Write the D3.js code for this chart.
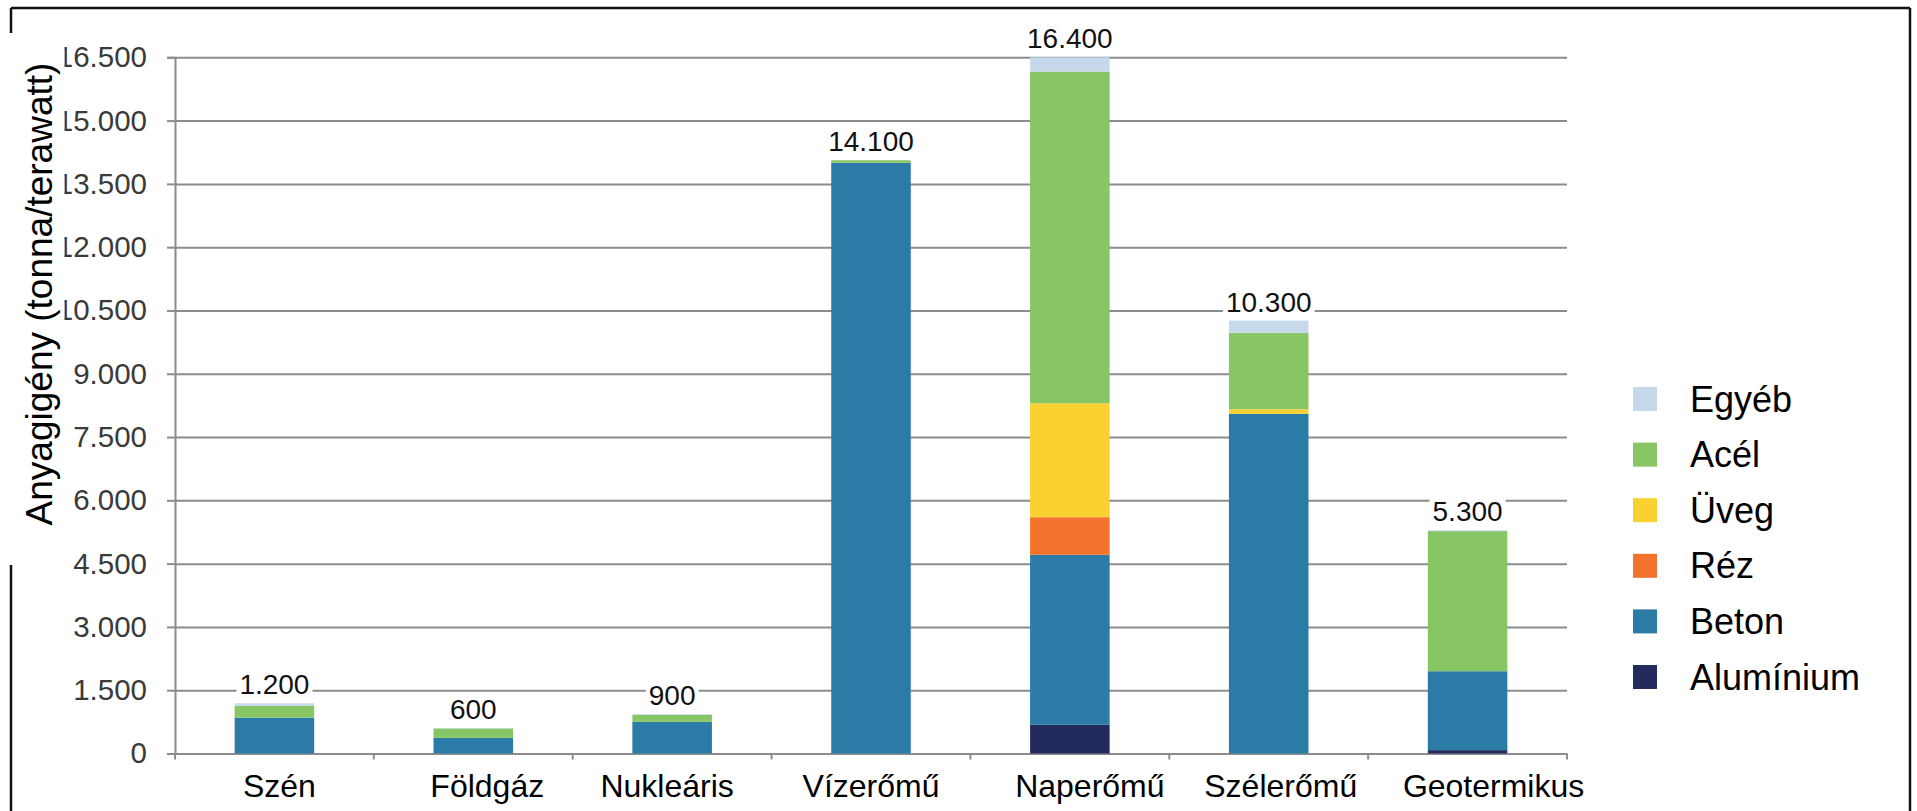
<!DOCTYPE html>
<html>
<head>
<meta charset="utf-8">
<script src="https://cdn.jsdelivr.net/npm/d3@7"></script>
<style>
  html, body { margin: 0; padding: 0; background: #fff; }
  svg { display: block; font-family: "Liberation Sans", Arial, sans-serif; }
</style>
</head>
<body>
<svg id="chart" width="1917" height="811"></svg>
<script>
// ---- Data ----
const categories = ["Szén", "Földgáz", "Nukleáris", "Vízerőmű", "Naperőmű", "Szélerőmű", "Geotermikus"];
const seriesNames = ["Alumínium", "Beton", "Réz", "Üveg", "Acél", "Egyéb"];
const aluminium = [0, 0, 0, 0, 680, 0, 80];
const beton     = [850, 370, 750, 14000, 4030, 8050, 1870];
const rez       = [0, 0, 0, 0, 890, 0, 0];
const uveg      = [0, 0, 0, 0, 2700, 110, 0];
const acel      = [280, 225, 165, 60, 7860, 1810, 3320];
const egyeb     = [60, 10, 20, 0, 340, 290, 20];
const totalLabels = ["1.200", "600", "900", "14.100", "16.400", "10.300", "5.300"];
const yTickValues = [0, 1500, 3000, 4500, 6000, 7500, 9000, 10500, 12000, 13500, 15000, 16500];
const colors = ["#222b5c", "#2b7ba6", "#f3722c", "#fad130", "#88c565", "#c6d9ec"];
const legendOrder = ["Egyéb", "Acél", "Üveg", "Réz", "Beton", "Alumínium"];
const yTitle = "Anyagigény (tonna/terawatt)";

// layout: small horizontal nudges of the category labels (as placed in the original)
const labelNudge = [5, 14, -5, 0, 20, 12, 26];

// ---- Build table ----
const seriesValues = [aluminium, beton, rez, uveg, acel, egyeb];
const table = categories.map((c, i) => {
  const row = { category: c };
  seriesNames.forEach((s, j) => { row[s] = seriesValues[j][i]; });
  return row;
});
const stacked = d3.stack().keys(seriesNames)(table);
const color = d3.scaleOrdinal().domain(seriesNames).range(colors);

const svg = d3.select("#chart");
svg.append("rect").attr("width", 1917).attr("height", 811).attr("fill", "#fff");

const x = d3.scaleBand().domain(categories).range([175, 1567]).paddingInner(0.6).paddingOuter(0.3);
const y = d3.scaleLinear().domain([0, 16500]).range([753.5, 57.3]);
const locale = d3.formatLocale({ decimal: ",", thousands: ".", grouping: [3], currency: ["", ""] });
const fmt = locale.format(",d");

const gridColor = "#8c8c8e";

// clip for y tick labels (left edge cut like reference)
svg.append("clipPath").attr("id", "yclip")
  .append("rect").attr("x", 64.5).attr("y", 0).attr("width", 200).attr("height", 811);

// Y axis with grid
const yAxis = svg.append("g").attr("transform", "translate(175,0)")
  .call(d3.axisLeft(y).tickValues(yTickValues).tickFormat(fmt).tickSize(8).tickPadding(20));
yAxis.select(".domain").attr("stroke", gridColor).attr("stroke-width", 2);
yAxis.selectAll(".tick line").attr("stroke", gridColor).attr("stroke-width", 2);
yAxis.selectAll(".tick text")
  .attr("font-size", 29.5).attr("fill", "#3a3a3a")
  .attr("text-anchor", "end")
  .attr("font-family", "Liberation Sans, Arial, sans-serif");
yAxis.selectAll(".tick").append("line")
  .attr("x1", 0).attr("x2", 1567 - 175).attr("y1", 0).attr("y2", 0)
  .attr("stroke", gridColor).attr("stroke-width", 2);

// move tick labels into a clipped group
const yLabelsClip = svg.append("g").attr("clip-path", "url(#yclip)");
yAxis.selectAll(".tick text").each(function () {
  const parentT = d3.select(this.parentNode).attr("transform");
  const g = yLabelsClip.append("g").attr("transform", "translate(175,0) " + parentT);
  g.node().appendChild(this);
});

// X axis baseline ticks
const xAxisG = svg.append("g");
const step = x.step();
const boundaries = d3.range(categories.length + 1).map(k => 175 + k * step);
xAxisG.selectAll("line.xt").data(boundaries).enter().append("line")
  .attr("x1", d => d).attr("x2", d => d)
  .attr("y1", y(0)).attr("y2", y(0) + 6)
  .attr("stroke", gridColor).attr("stroke-width", 2);

// Category labels
svg.append("g").selectAll("text").data(categories).enter().append("text")
  .attr("x", (d, i) => x(d) + x.bandwidth() / 2 + labelNudge[i])
  .attr("y", 797)
  .attr("text-anchor", "middle")
  .attr("font-size", 32)
  .attr("fill", "#000")
  .text(d => d);

// Bars
svg.append("g").selectAll("g").data(stacked).enter().append("g")
  .attr("fill", d => color(d.key))
  .selectAll("rect").data(d => d).enter().append("rect")
  .attr("x", d => x(d.data.category))
  .attr("width", x.bandwidth())
  .attr("y", d => y(d[1]))
  .attr("height", d => Math.max(0, y(d[0]) - y(d[1])));

// Total labels with white background
const topStack = stacked[stacked.length - 1];
const totG = svg.append("g");
categories.forEach((c, i) => {
  const topVal = topStack[i][1];
  const g = totG.append("g");
  const bg = g.append("rect").attr("fill", "#fff");
  const t = g.append("text")
    .attr("x", x(c) + x.bandwidth() / 2)
    .attr("y", y(topVal) - 9)
    .attr("text-anchor", "middle")
    .attr("font-size", 28)
    .attr("fill", "#111")
    .text(totalLabels[i]);
  const bb = t.node().getBBox();
  bg.attr("x", bb.x - 3).attr("y", bb.y + 2).attr("width", bb.width + 6).attr("height", bb.height - 2);
});

// Y title
svg.append("text")
  .attr("transform", "translate(52,294) rotate(-90)")
  .attr("text-anchor", "middle")
  .attr("font-size", 37)
  .attr("fill", "#000")
  .text(yTitle);

// Legend
const legend = svg.append("g");
legendOrder.forEach((name, i) => {
  const yy = 387 + i * 55.6;
  legend.append("rect").attr("x", 1633).attr("y", yy).attr("width", 24).attr("height", 24)
    .attr("fill", color(name));
  legend.append("text").attr("x", 1690).attr("y", yy + 12).attr("dy", "0.35em")
    .attr("font-size", 36).attr("fill", "#000").text(name);
});

// Frame
const frame = svg.append("g").attr("stroke", "#111").attr("stroke-width", 2.5).attr("fill", "none");
frame.append("line").attr("x1", 11).attr("x2", 1910).attr("y1", 8).attr("y2", 8);
frame.append("line").attr("x1", 1910).attr("x2", 1910).attr("y1", 8).attr("y2", 811);
frame.append("line").attr("x1", 11).attr("x2", 11).attr("y1", 8).attr("y2", 33);
frame.append("line").attr("x1", 11).attr("x2", 11).attr("y1", 565).attr("y2", 811);
</script>
</body>
</html>
